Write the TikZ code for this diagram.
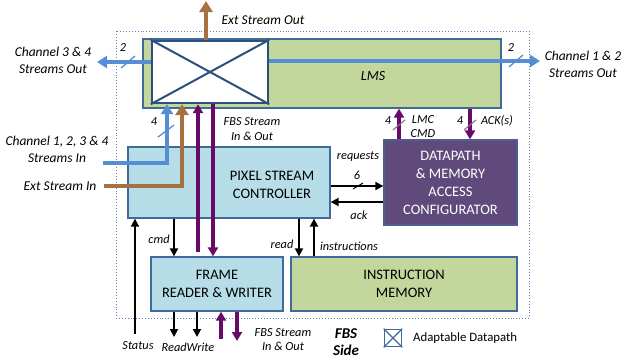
\documentclass[tikz,border=0pt]{standalone}
\usepackage{fontspec}
\setmainfont{Carlito}
\usetikzlibrary{arrows.meta}
\definecolor{lmsgreen}{HTML}{C3D69B}
\definecolor{pscblue}{HTML}{B7DEE8}
\definecolor{dppurple}{HTML}{604A7B}
\definecolor{edgeblue}{HTML}{3F6A99}
\definecolor{xblue}{HTML}{2C4F7C}
\definecolor{streamblue}{HTML}{558ED5}
\definecolor{streambrown}{HTML}{A5713F}
\definecolor{fbspurple}{HTML}{680A68}
\definecolor{framedot}{HTML}{5A83B5}
\definecolor{slashpurple}{HTML}{8A6A9E}
\begin{document}
\begin{tikzpicture}[x=1pt,y=-1pt,
  box/.style={draw=edgeblue, line width=1.3pt, inner sep=0pt},
  lmsbox/.style={box, fill=lmsgreen},
  pscbox/.style={box, fill=pscblue},
  dpbox/.style={box, fill=dppurple, draw=edgeblue!70!dppurple},
  xbarbox/.style={draw=xblue, line width=2.4pt, fill=white, inner sep=0pt},
  xline/.style={draw=xblue, line width=2pt},
  bluearrow/.style={draw=streamblue, line width=4pt, -{Triangle[length=10pt,width=12pt]}},
  brownarrow/.style={draw=streambrown, line width=4pt, -{Triangle[length=11pt,width=13pt]}},
  fbsarrow/.style={draw=fbspurple, line width=3.2pt, -{Triangle[length=9pt,width=10pt]}},
  sigarrow/.style={draw=black, line width=1.8pt, -{Triangle[length=8pt,width=8pt]}},
  slashline/.style={line width=1.3pt},
  lbl/.style={font=\fontsize{12.3}{14}\selectfont\itshape, inner sep=0pt},
  biglbl/.style={font=\fontsize{13.5}{17}\selectfont\itshape, align=center, inner sep=0pt},
  boxtext/.style={font=\fontsize{14.5}{17.5}\selectfont, align=center, inner sep=0pt}
]
\useasboundingbox (0,0) rectangle (622,360);
% dotted FBS frame
\draw[framedot, dotted, line width=0.9pt] (116,31) rectangle (529,318);
% boxes
\node[lmsbox, minimum width=358pt, minimum height=69pt] (lms) at (322,73.5) {};
\node[xbarbox, minimum width=116pt, minimum height=62pt] (xbar) at (210,72) {};
\draw[xline] (xbar.north west) -- (xbar.south east) (xbar.south west) -- (xbar.north east);
\node[pscbox, minimum width=202pt, minimum height=71pt] (psc) at (229,182.5) {};
\node[pscbox, minimum width=132pt, minimum height=54pt] (frame) at (217,284) {};
\node[lmsbox, minimum width=226pt, minimum height=54pt] (imem) at (404,284) {};
\node[dpbox, minimum width=133pt, minimum height=85pt] (dp) at (450.5,182.5) {};
% box texts
\node[biglbl, font=\fontsize{14}{17}\selectfont\itshape] (lmstext) at (373,76) {LMS};
\node[boxtext] (psctext) at (272,185) {PIXEL STREAM\\CONTROLLER};
\node[boxtext] (frametext) at (217,284) {FRAME\\READER \& WRITER};
\node[boxtext] (imemtext) at (404,284) {INSTRUCTION\\MEMORY};
\node[boxtext, text=white, font=\fontsize{14.5}{18}\selectfont] (dptext) at (450.5,183) {DATAPATH\\\& MEMORY\\ACCESS\\CONFIGURATOR};
% guide coordinates
\coordinate (extout) at (206,1);
\coordinate (c34) at (97,62);
\coordinate (c12) at (540,61);
\coordinate (cin) at (103,163);
\coordinate (gin) at (167,0);
\coordinate (extin) at (104,186);
\coordinate (gext) at (182,0);
\coordinate (pup) at (198,0);
\coordinate (pdown) at (213,0);
\coordinate (glmc) at (399,0);
\coordinate (gack) at (470,0);
\coordinate (hreq) at (0,186);
\coordinate (hack) at (0,202);
\coordinate (gread) at (299,0);
\coordinate (ginstr) at (314,0);
\coordinate (gcmd) at (174,0);
\coordinate (status) at (135,334);
\coordinate (rd) at (174,337);
\coordinate (wr) at (197,337);
\coordinate (fbsin) at (221,339);
\coordinate (fbsout) at (237,341);
% stream arrows
\draw[brownarrow] (xbar.north -| extout) -- (extout);
\draw[bluearrow] (xbar.west |- c34) -- (c34);
\draw[bluearrow] (xbar.east |- c12) -- (c12);
\draw[bluearrow] (cin) -| (xbar.south -| gin);
\draw[brownarrow] (extin) -| (xbar.south -| gext);
\draw[fbsarrow] ([yshift=4pt]frame.north -| pup) -- (xbar.south -| pup);
\draw[fbsarrow] (xbar.south -| pdown) -- (frame.north -| pdown);
% slashes on streams
\draw[streamblue, slashline] (128,62) ++(-7,6) -- ++(14,-12);
\draw[streamblue, slashline] (516,61) ++(-7,6) -- ++(14,-12);
\draw[streamblue, slashline] (166,131) ++(-8,6) -- ++(16,-12);
% LMS <-> datapath
\draw[fbsarrow] (dp.north -| glmc) -- (lms.south -| glmc);
\draw[fbsarrow] (lms.south -| gack) -- (dp.north -| gack);
\draw[slashpurple, line width=1.1pt] (399,125) ++(-6,5) -- ++(12,-10);
\draw[slashpurple, line width=1.1pt] (470,125) ++(-6,5) -- ++(12,-10);
% PSC <-> datapath
\draw[sigarrow] (psc.east |- hreq) -- (dp.west |- hreq);
\draw[sigarrow] (dp.west |- hack) -- (psc.east |- hack);
\draw[line width=1pt] (358,186) ++(-5,3) -- ++(10,-6);
% PSC <-> instruction memory / frame
\draw[sigarrow] (psc.south -| gread) -- (imem.north -| gread);
\draw[sigarrow] (imem.north -| ginstr) -- (psc.south -| ginstr);
\draw[sigarrow] (psc.south -| gcmd) -- (frame.north -| gcmd);
\draw[sigarrow] (status) -- (psc.south -| status);
\draw[sigarrow] (frame.south -| rd) -- (rd);
\draw[sigarrow] (frame.south -| wr) -- (wr);
\draw[fbsarrow] (fbsin) -- (frame.south -| fbsin);
\draw[fbsarrow] (frame.south -| fbsout) -- (fbsout);
% labels
\node[biglbl] (lextout) at (263,20) {Ext Stream Out};
\node[biglbl] (lc34) at (53,60.5) {Channel 3 \& 4\\Streams Out};
\node[biglbl] (lc12) at (583,64) {Channel 1 \& 2\\Streams Out};
\node[biglbl] (lcin) at (57,149.5) {Channel 1, 2, 3 \& 4\\Streams In};
\node[biglbl] (lextin) at (60,186) {Ext Stream In};
\node[lbl] (l2a) at (123,48) {2};
\node[lbl] (l2b) at (511,48) {2};
\node[lbl] (l4a) at (154,122) {4};
\node[lbl, align=center, font=\fontsize{12.3}{14.5}\selectfont\itshape] (lfbs1) at (252,129) {FBS Stream\\In \& Out};
\node[lbl] (l4b) at (388,121) {4};
\node[lbl] (l4c) at (460,121) {4};
\node[lbl, align=center, font=\fontsize{12.3}{14.5}\selectfont\itshape] (llmc) at (423,126.5) {LMC\\CMD};
\node[lbl] (lack2) at (497,121) {ACK(s)};
\node[lbl] (lreq) at (358,157) {requests};
\node[lbl] (l6) at (357,175) {6};
\node[lbl] (lack) at (359,215) {ack};
\node[lbl] (lread) at (282,244) {read};
\node[lbl] (linstr) at (349,246) {instructions};
\node[lbl] (lcmd) at (159,239) {cmd};
\node[lbl] (lstatus) at (138,346) {Status};
\node[lbl] (lrw) at (188,347) {ReadWrite};
\node[lbl, align=center, font=\fontsize{12.3}{14.5}\selectfont\itshape] (lfbs2) at (283,339.5) {FBS Stream\\In \& Out};
\node[align=center, inner sep=0pt, font=\fontsize{15}{17}\selectfont\bfseries\itshape] (lside) at (346,342.5) {FBS\\Side};
% legend
\node[draw=edgeblue, line width=1.6pt, fill=white, minimum size=17pt, inner sep=0pt] (leg) at (393,338) {};
\draw[xline, draw=edgeblue, line width=1.4pt] (leg.north west) -- (leg.south east) (leg.south west) -- (leg.north east);
\node[anchor=west, inner sep=0pt, font=\fontsize{12.8}{14}\selectfont] (legtext) at (413,338) {Adaptable Datapath};
\end{tikzpicture}
\end{document}
